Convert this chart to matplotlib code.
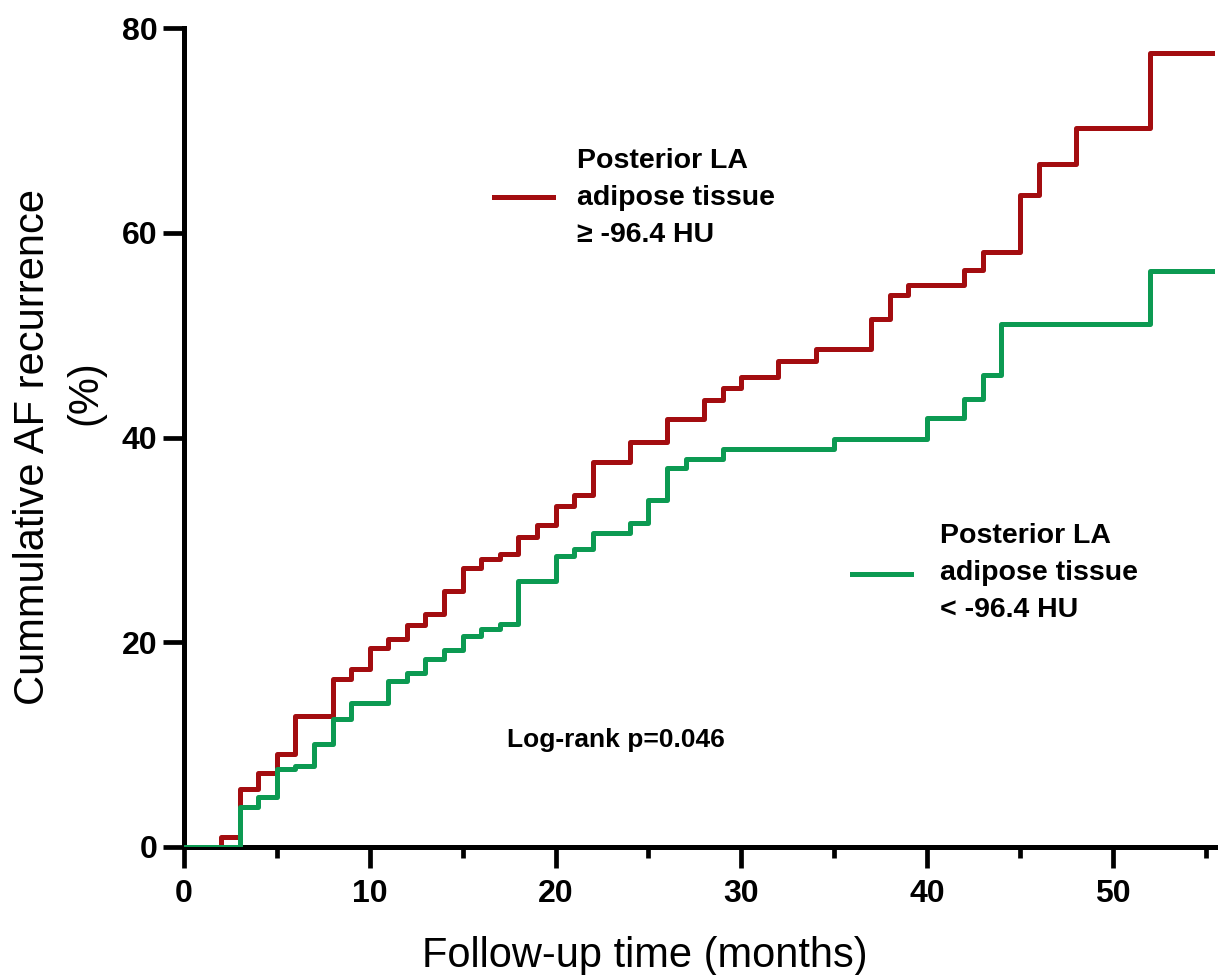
"""
Cumulative AF recurrence by posterior LA adipose tissue attenuation
(Kaplan-Meier style step curves).
"""

import matplotlib
matplotlib.use("Agg")
import matplotlib.pyplot as plt
from matplotlib.ticker import MultipleLocator

# months at which each curve steps, and the cumulative recurrence (%) after the step
HIGH_T = [0, 2, 3, 4, 5, 6, 8, 9, 10, 11, 12, 13, 14, 15, 16, 17, 18, 19, 20,
          21, 22, 24, 26, 28, 29, 30, 32, 34, 37, 38, 39, 42, 43, 45, 46, 48,
          52, 55.5]
HIGH_Y = [0, 1.0, 5.7, 7.2, 9.1, 12.8, 16.4, 17.4, 19.4, 20.3, 21.7, 22.8,
          25.0, 27.3, 28.1, 28.6, 30.3, 31.5, 33.3, 34.4, 37.6, 39.6, 41.8,
          43.7, 44.8, 45.9, 47.5, 48.6, 51.6, 53.9, 54.9, 56.4, 58.1, 63.7,
          66.7, 70.2, 77.6, 77.6]

LOW_T = [0, 3, 4, 5, 6, 7, 8, 9, 11, 12, 13, 14, 15, 16, 17, 18, 20, 21, 22,
         24, 25, 26, 27, 29, 35, 40, 42, 43, 44, 52, 55.5]
LOW_Y = [0, 3.9, 4.9, 7.6, 7.9, 10.1, 12.5, 14.1, 16.2, 17.0, 18.4, 19.2,
         20.6, 21.3, 21.8, 26.0, 28.4, 29.1, 30.7, 31.6, 33.9, 37.0, 37.9,
         38.9, 39.9, 41.9, 43.8, 46.1, 51.1, 56.3, 56.3]

HIGH_LABEL = ["Posterior LA", "adipose tissue", "\u2265 -96.4 HU"]
LOW_LABEL = ["Posterior LA", "adipose tissue", "< -96.4 HU"]
P_TEXT = "Log-rank p=0.046"

RED = "#a30d10"
GREEN = "#0c9a52"
W, H = 1219, 975


def px(x, y):
    """figure fraction from reference pixel coordinates"""
    return x / W, 1 - y / H


def legend_entry(fig, color, x_line, y_line, x_text, y_first, lines):
    """line sample plus three lines of text, placed as in the original"""
    fig.add_artist(plt.Line2D([x_line / W, (x_line + 59) / W],
                              [1 - y_line / H] * 2, color=color, lw=3.6))
    for i, line in enumerate(lines):
        fig.text(*px(x_text, y_first + 37 * i), line, fontsize=20.5,
                 fontweight="bold", ha="left", va="baseline")


def plot():
    plt.rcParams["font.family"] = ["Liberation Sans", "DejaVu Sans"]
    fig = plt.figure(figsize=(W / 100, H / 100), dpi=100)
    ax = fig.add_axes([184 / W, 1 - 847 / H, (1215 - 184) / W, (847 - 28) / H])

    ax.step(HIGH_T, HIGH_Y, where="post", color=RED, lw=3.6, zorder=3)
    ax.step(LOW_T, LOW_Y, where="post", color=GREEN, lw=3.6, zorder=4)

    ax.set_xlim(0, 55.5)
    ax.set_ylim(0, 80)
    ax.xaxis.set_major_locator(MultipleLocator(10))
    ax.xaxis.set_minor_locator(MultipleLocator(5))
    ax.yaxis.set_major_locator(MultipleLocator(20))

    for side in ["top", "right"]:
        ax.spines[side].set_visible(False)
    for side in ["left", "bottom"]:
        ax.spines[side].set_linewidth(3.6)
        ax.spines[side].set_capstyle("projecting")

    ax.tick_params(which="major", direction="out", length=15, width=3.4,
                   labelsize=23, pad=4)
    ax.tick_params(axis="x", which="major", pad=8)
    ax.tick_params(axis="x", which="minor", direction="out", length=8,
                   width=3.4)
    for lab in ax.get_xticklabels() + ax.get_yticklabels():
        lab.set_fontweight("bold")

    # axis titles
    fig.text(*px(645, 967), "Follow-up time (months)", fontsize=30,
             ha="center", va="baseline")
    fig.text(*px(33, 447), "Cummulative AF recurrence", fontsize=30,
             rotation=90, ha="center", va="center")
    fig.text(*px(85, 393), "(%)", fontsize=30, rotation=90, ha="center",
             va="center")

    legend_entry(fig, RED, 494, 197, 577, 168, HIGH_LABEL)
    legend_entry(fig, GREEN, 852, 574, 940, 543, LOW_LABEL)

    fig.text(*px(507, 747), P_TEXT, fontsize=19, fontweight="bold",
             ha="left", va="baseline")

    fig.savefig("out.png", dpi=100)


if __name__ == "__main__":
    plot()
